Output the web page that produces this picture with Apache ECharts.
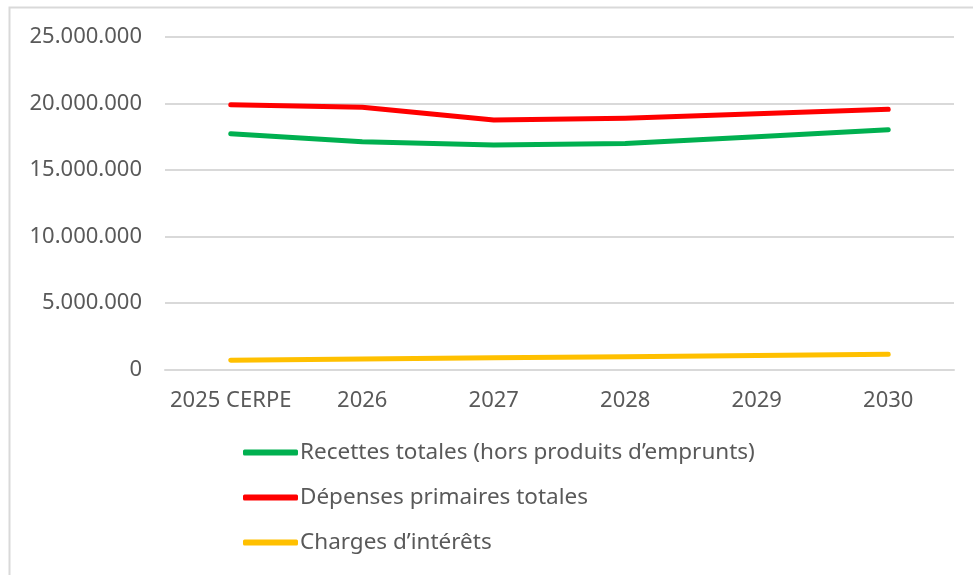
<!DOCTYPE html>
<html>
<head>
<meta charset="utf-8">
<script src="https://cdn.jsdelivr.net/npm/echarts@6/dist/echarts.min.js"></script>
<style>
  html, body { margin: 0; padding: 0; background: #fff; }
  #chart { width: 973px; height: 575px; }
</style>
</head>
<body>
<div id="chart"></div>
<script>
// 类目与数据
const years = ['2025 CERPE', '2026', '2027', '2028', '2029', '2030']
const recettes = [17730000, 17130000, 16880000, 17000000, 17500000, 18030000]
const depenses = [19910000, 19710000, 18760000, 18890000, 19230000, 19560000]
const charges = [700000, 790000, 880000, 960000, 1050000, 1140000]
const seriesNames = [
  'Recettes totales (hors produits d\u2019emprunts)',
  'Dépenses primaires totales',
  'Charges d\u2019intérêts'
]
const colors = ['#00B050', '#FF0000', '#FFC000']

const font = '"Noto Sans", sans-serif'
const textColor = '#595959'

// 千位分隔用点
function fmt(v) {
  return String(v).replace(/\B(?=(\d{3})+(?!\d))/g, '.')
}

const chart = echarts.init(document.getElementById('chart'))

const lineSeries = [recettes, depenses, charges].map((data, i) => ({
  name: seriesNames[i],
  type: 'line',
  data: data,
  symbol: 'none',
  smooth: false,
  lineStyle: { width: 5, color: colors[i], cap: 'round', join: 'round' },
  itemStyle: { color: colors[i] }
}))

chart.setOption({
  animation: false,
  color: colors,
  graphic: [{
    type: 'rect',
    shape: { x: 9.5, y: 7.5, width: 1000, height: 1000 },
    style: { fill: 'none', stroke: '#d9d9d9', lineWidth: 2 },
    silent: true
  }],
  grid: { left: 165, right: 19, top: 37, bottom: 205.5 },
  xAxis: {
    type: 'category',
    data: years,
    boundaryGap: true,
    axisLine: { show: true, lineStyle: { color: '#d9d9d9', width: 2 } },
    axisTick: { show: false },
    axisLabel: { color: textColor, fontFamily: font, fontSize: 22, margin: 20, interval: 0 }
  },
  yAxis: {
    type: 'value',
    min: 0,
    max: 25000000,
    interval: 5000000,
    axisLine: { show: false },
    axisTick: { show: false },
    splitLine: { lineStyle: { color: '#d9d9d9', width: 2 } },
    axisLabel: { color: textColor, fontFamily: font, fontSize: 22, margin: 23, formatter: fmt }
  },
  legend: {
    orient: 'vertical',
    left: 243,
    top: 440,
    padding: 0,
    itemWidth: 55,
    itemHeight: 6,
    itemGap: 20,
    icon: 'roundRect',
    data: seriesNames,
    textStyle: { color: textColor, fontFamily: font, fontSize: 22.5, lineHeight: 25, padding: [0, 0, 0, -3] }
  },
  series: lineSeries
})
</script>
</body>
</html>
